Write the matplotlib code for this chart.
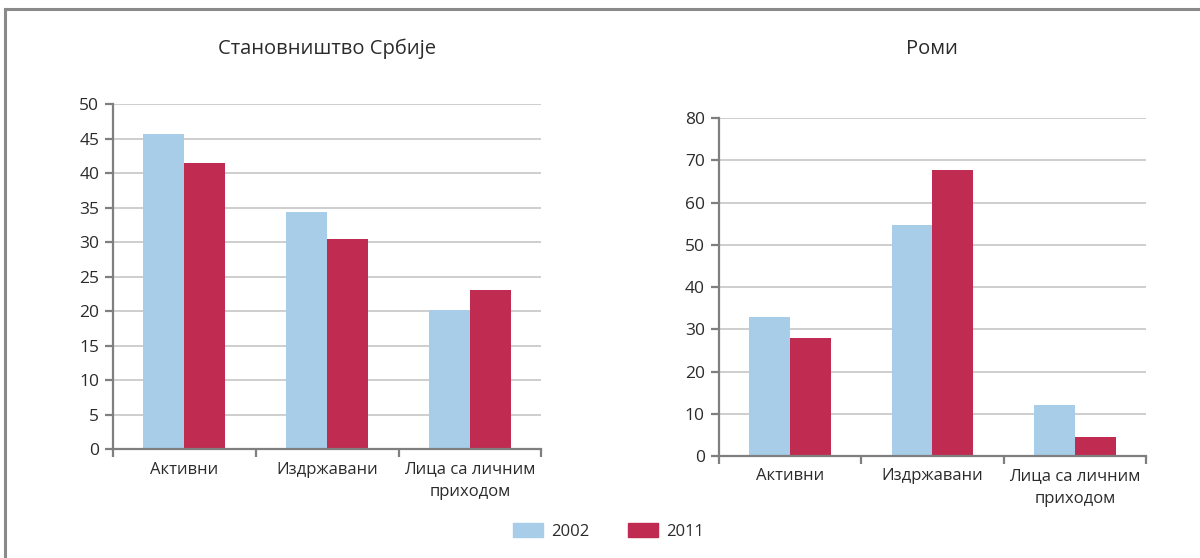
import matplotlib.pyplot as plt
import numpy as np
from matplotlib.patches import Patch
from matplotlib.lines import Line2D

plt.rcParams['font.family'] = ['Open Sans', 'DejaVu Sans']

categories = ['Активни', 'Издржавани', 'Лица са личним\nприходом']
years = ['2002', '2011']
serbia_2002 = [45.6, 34.3, 20.1]
serbia_2011 = [41.4, 30.5, 23.1]
roma_2002 = [32.8, 54.6, 12.1]
roma_2011 = [28.0, 67.6, 4.5]

c2002 = '#a7cde8'
c2011 = '#c02c51'
text_col = '#2b2b2b'
spine_col = '#7f7f7f'
grid_col = '#c6c6c6'

fig = plt.figure(figsize=(12, 5.58), dpi=100)


def draw(ax, v1, v2, ymax, step, title, pad):
    x = np.arange(len(categories))
    w = 0.287
    ax.bar(x - w / 2, v1, w, color=c2002, zorder=3)
    ax.bar(x + w / 2, v2, w, color=c2011, zorder=3)
    ax.set_xlim(-0.5, len(categories) - 0.5)
    ax.set_ylim(0, ymax)
    ax.set_yticks(np.arange(0, ymax + 1, step))
    ax.yaxis.grid(True, color=grid_col, linewidth=1.2, zorder=0)
    ax.set_axisbelow(True)
    for s in ['top', 'right']:
        ax.spines[s].set_visible(False)
    for s in ['left', 'bottom']:
        ax.spines[s].set_color(spine_col)
        ax.spines[s].set_linewidth(1.6)
        ax.spines[s].set_zorder(4)
    # category labels between boundary ticks
    ax.set_xticks(np.arange(-0.5, len(categories), 1))
    ax.set_xticklabels([])
    ax.set_xticks(x, minor=True)
    ax.set_xticklabels(categories, minor=True, fontsize=12, color=text_col,
                       linespacing=1.55)
    ax.tick_params(axis='x', which='minor', length=0, pad=9)
    ax.tick_params(axis='x', which='major', length=6, width=1.6, color=spine_col)
    ax.tick_params(axis='y', length=6, width=1.6, color=spine_col,
                   labelsize=12.5, labelcolor=text_col, pad=4)
    ax.set_title(title, fontsize=14.5, color=text_col, pad=pad)


ax1 = fig.add_axes([0.0942, 0.1953, 0.357, 0.6183])
draw(ax1, serbia_2002, serbia_2011, 50, 5, 'Становништво Србије', 36)

ax2 = fig.add_axes([0.599, 0.1828, 0.356, 0.6057])
draw(ax2, roma_2002, roma_2011, 80, 10, 'Роми', 46)

handles = [Patch(color=c2002, label=years[0]), Patch(color=c2011, label=years[1])]
fig.legend(handles=handles, loc='center', bbox_to_anchor=(0.507, 0.048), ncol=2,
           frameon=False, fontsize=12, handlelength=1.8, handleheight=0.9,
           handletextpad=0.5, columnspacing=2.3, labelcolor=text_col)

# outer frame (left and top edges)
fig.add_artist(Line2D([0.0045, 0.0045], [0, 0.984], color='#8a8a8a', linewidth=2.2))
fig.add_artist(Line2D([0.0045, 1.0], [0.984, 0.984], color='#8a8a8a', linewidth=2.2))

fig.savefig('out.png', dpi=100)
